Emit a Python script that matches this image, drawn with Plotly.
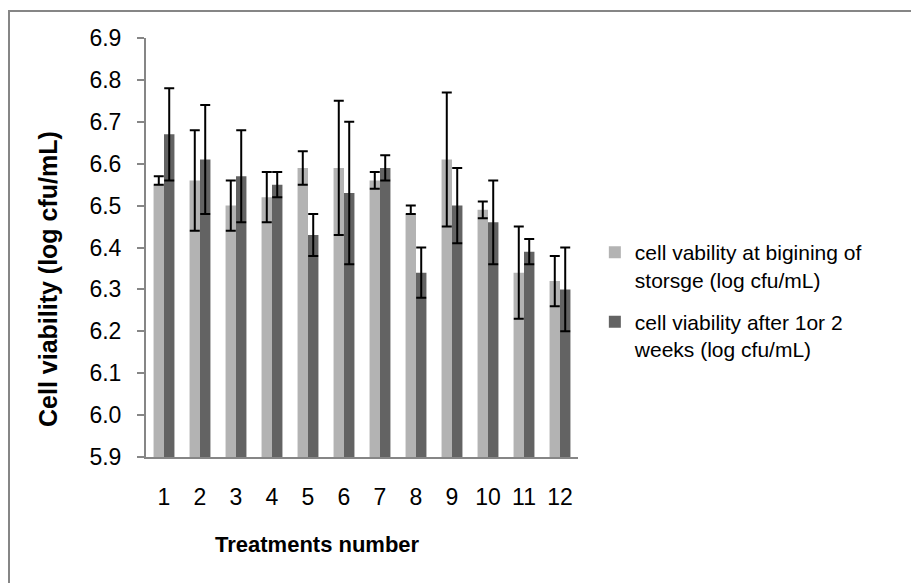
import plotly.graph_objects as go

treatments = [str(i) for i in range(1, 13)]
begin_vals = [6.55, 6.56, 6.50, 6.52, 6.59, 6.59, 6.56, 6.48, 6.61, 6.49, 6.34, 6.32]
begin_err_plus = [0.02, 0.12, 0.06, 0.06, 0.04, 0.16, 0.02, 0.02, 0.16, 0.02, 0.11, 0.06]
begin_err_minus = [0.00, 0.12, 0.06, 0.06, 0.04, 0.16, 0.02, 0.00, 0.16, 0.02, 0.11, 0.06]
after_vals = [6.67, 6.61, 6.57, 6.55, 6.43, 6.53, 6.59, 6.34, 6.50, 6.46, 6.39, 6.30]
after_err = [0.11, 0.13, 0.11, 0.03, 0.05, 0.17, 0.03, 0.06, 0.09, 0.10, 0.03, 0.10]
y_ticks = [5.9, 6.0, 6.1, 6.2, 6.3, 6.4, 6.5, 6.6, 6.7, 6.8, 6.9]

FONT = "Arial, Liberation Sans, sans-serif"
AX = "#868686"

# page offset of 8px (body margin) compensated in the margins
L, R, T, B = 138, 349, 30, 134
W, H = 919, 583
PW = W - L - R
PH = H - T - B


def px(xp):
    return (xp - 8 - L) / PW


def py(yp):
    return (H - B - (yp - 8)) / PH


fig = go.Figure()
fig.add_trace(go.Bar(
    x=treatments, y=begin_vals, name="cell vability at bigining of<br>storsge (log cfu/mL)",
    marker=dict(color="#b3b3b3", line=dict(width=0)),
    error_y=dict(type="data", symmetric=False, array=begin_err_plus, arrayminus=begin_err_minus,
                 color="black", thickness=2, width=5),
    legendgroup="a",
))
fig.add_trace(go.Bar(
    x=treatments, y=after_vals, name="cell viability after 1or 2<br>weeks (log cfu/mL)",
    marker=dict(color="#636363", line=dict(width=0)),
    error_y=dict(type="data", array=after_err, color="black", thickness=2, width=5),
    legendgroup="b",
))

fig.update_layout(
    width=W, height=H,
    margin=dict(l=L, r=R, t=T, b=B),
    paper_bgcolor="white", plot_bgcolor="white",
    font=dict(family=FONT, size=21, color="black"),
    barmode="group", bargap=0.42, bargroupgap=0,
    showlegend=True,
    legend=dict(x=1.039, y=0.537, xanchor="left", yanchor="top", valign="top",
                font=dict(size=21), traceorder="grouped", tracegroupgap=12,
                itemwidth=30, bgcolor="rgba(0,0,0,0)"),
    xaxis=dict(type="category", showline=True, linecolor=AX, linewidth=2,
               ticks="", showgrid=False, tickfont=dict(size=23),
               ticklabelstandoff=18, zeroline=False),
    yaxis=dict(range=[5.9, 6.9], tickvals=y_ticks, tickformat=".1f",
               showline=True, linecolor=AX, linewidth=2,
               ticks="outside", ticklen=7, tickcolor=AX, tickwidth=1.5,
               showgrid=False, zeroline=False, tickfont=dict(size=23),
               ticklabelstandoff=11),
    annotations=[
        dict(text="<b>Treatments number</b>", xref="paper", yref="paper",
             x=px(317), y=py(544), xanchor="center", yanchor="middle",
             showarrow=False, font=dict(size=22)),
        dict(text="<b>Cell viability (log cfu/mL)</b>", xref="paper", yref="paper",
             x=px(48), y=py(279), xanchor="center", yanchor="middle",
             textangle=-90, showarrow=False, font=dict(size=25)),
    ],
    shapes=[
        dict(type="rect", xref="paper", yref="paper",
             x0=px(9), x1=2.0, y0=-0.6, y1=py(11),
             line=dict(color=AX, width=2), fillcolor="rgba(0,0,0,0)", layer="below"),
    ],
)

fig.write_html("out.html")
